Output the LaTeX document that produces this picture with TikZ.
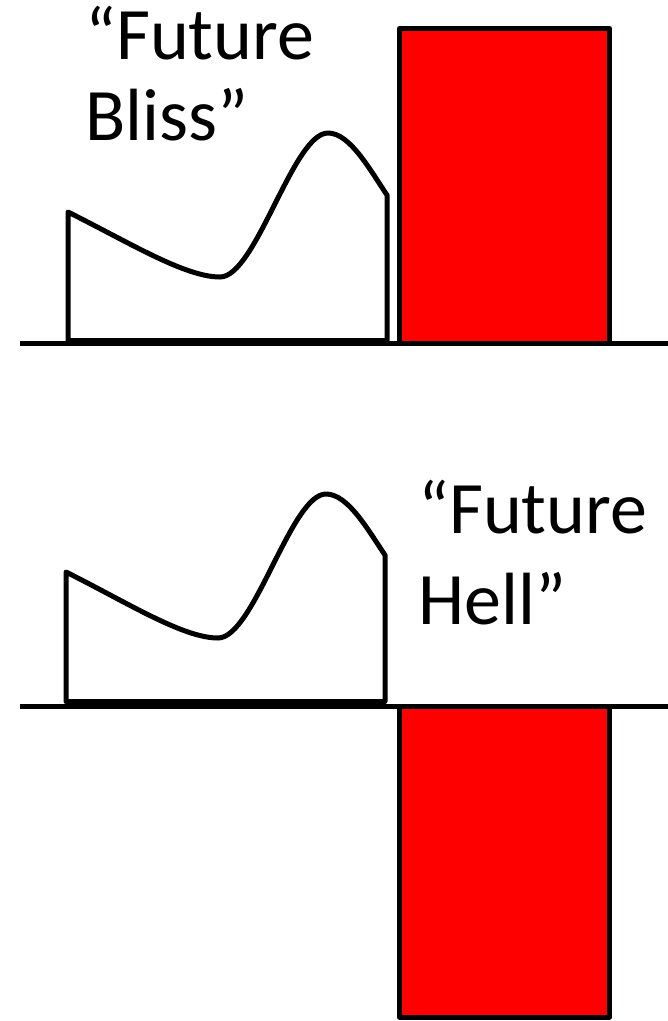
\documentclass[tikz,border=0pt]{standalone}
\usepackage{fontspec}
\setmainfont{Carlito}
\definecolor{barred}{RGB}{255,0,0}
\begin{document}
\begin{tikzpicture}[x=1pt,y=-1pt,
  axis/.style={line width=5pt},
  curve/.style={line width=5pt,line join=round},
  bar/.style={draw=black,fill=barred,line width=5pt,line join=round},
  label/.style={anchor=base west,inner sep=0pt,font=\fontsize{74}{81}\selectfont}]
\useasboundingbox (0,0) rectangle (668,1021);
% top panel
\draw[bar] (399.5,28.5) rectangle (609.5,343);
\draw[axis] (20,343.5) -- (668,343.5);
\draw[curve] (68,340.5) -- (68,212)
  .. controls (130,243) and (185,277) .. (220,277)
  .. controls (256,277) and (293,133) .. (328,133)
  .. controls (350,133) and (370,170) .. (387,195)
  -- (387,340.5) -- cycle;
\node[label] (f1) at (85,59) {“Future};
\node[label] (b1) at (85,140) {Bliss”};
% bottom panel
\draw[bar] (399.5,706) rectangle (609.5,1017);
\draw[axis] (20,706.5) -- (668,706.5);
\draw[curve] (66,701.5) -- (66,572)
  .. controls (128,603) and (183,638) .. (218,638)
  .. controls (254,638) and (291,494) .. (326,494)
  .. controls (348,494) and (368,530) .. (385,555)
  -- (385,701.5) -- cycle;
\node[label] (f2) at (418,533) {“Future};
\node[label] (h2) at (418,624) {Hell”};
\end{tikzpicture}
\end{document}
